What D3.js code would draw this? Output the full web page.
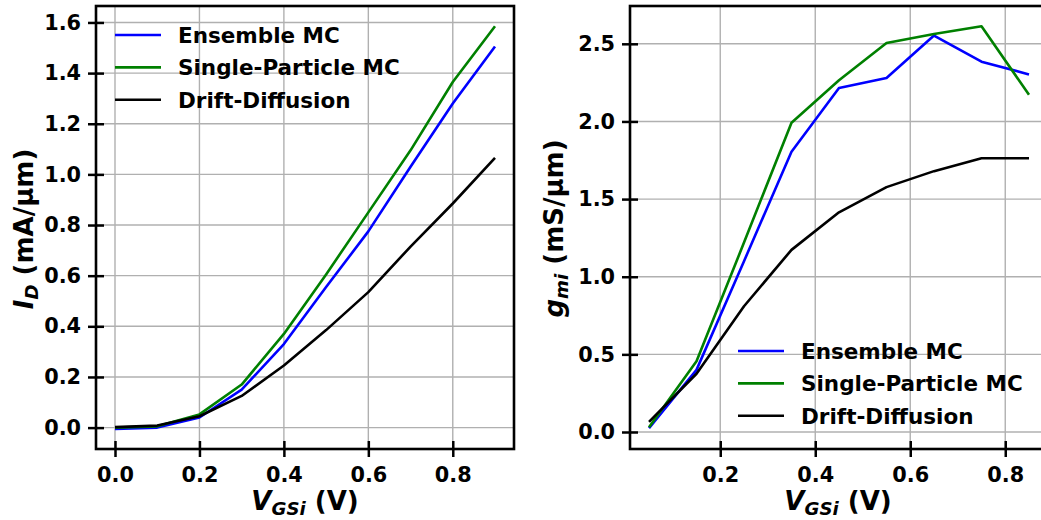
<!DOCTYPE html>
<html><head><meta charset="utf-8">
<script src="https://cdn.jsdelivr.net/npm/d3@7"></script>
<style>
body{margin:0;background:#fff;}
svg{display:block;font-family:"DejaVu Sans",sans-serif;font-weight:bold;}
</style></head>
<body>
<svg id="chart" width="1041" height="520"></svg>
<script>
// ---- data ----
const vgsLeft = [0.0, 0.1, 0.2, 0.3, 0.4, 0.5, 0.6, 0.7, 0.8, 0.9];
const idEnsemble = [-0.005, 0.0, 0.04, 0.15, 0.33, 0.555, 0.775, 1.03, 1.28, 1.505];
const idSingle   = [0.0, 0.005, 0.052, 0.17, 0.37, 0.605, 0.85, 1.095, 1.365, 1.585];
const idDD       = [0.002, 0.008, 0.045, 0.125, 0.245, 0.385, 0.535, 0.715, 0.885, 1.065];

const vgsRight = [0.05, 0.15, 0.25, 0.35, 0.45, 0.55, 0.65, 0.75, 0.85];
const gmEnsemble = [0.025, 0.40, 1.10, 1.805, 2.215, 2.28, 2.553, 2.385, 2.303];
const gmSingle   = [0.03, 0.455, 1.22, 1.992, 2.265, 2.505, 2.563, 2.613, 2.172];
const gmDD       = [0.065, 0.375, 0.81, 1.173, 1.415, 1.577, 1.68, 1.763, 1.763];

const seriesNames = ["Ensemble MC", "Single-Particle MC", "Drift-Diffusion"];
const seriesColors = ["#0000ff", "#008000", "#000000"];

const xTicksLeft = [0.0, 0.2, 0.4, 0.6, 0.8];
const yTicksLeft = [0.0, 0.2, 0.4, 0.6, 0.8, 1.0, 1.2, 1.4, 1.6];
const xTicksRight = [0.2, 0.4, 0.6, 0.8];
const yTicksRight = [0.0, 0.5, 1.0, 1.5, 2.0, 2.5];

// ---- layout ----
const svg = d3.select("#chart");
const plotTop = 6, plotBottom = 449;

function panel(cfg) {
  const x = d3.scaleLinear().domain(cfg.xDomain).range([cfg.left, cfg.right]);
  const y = d3.scaleLinear().domain(cfg.yDomain).range([plotBottom, plotTop]);
  const g = svg.append("g");
  const clipId = "clip" + cfg.id;
  svg.append("clipPath").attr("id", clipId).append("rect")
    .attr("x", cfg.left).attr("y", plotTop).attr("width", cfg.right - cfg.left).attr("height", plotBottom - plotTop);

  // grid
  const grid = g.append("g").attr("stroke", "#b0b0b0").attr("stroke-width", 1.4);
  grid.selectAll(".gx").data(cfg.xTicks).join("line")
    .attr("x1", d => x(d)).attr("x2", d => x(d)).attr("y1", plotTop).attr("y2", plotBottom);
  grid.selectAll(".gy").data(cfg.yTicks).join("line")
    .attr("x1", cfg.left).attr("x2", cfg.right).attr("y1", d => y(d)).attr("y2", d => y(d));

  // lines
  const line = d3.line().x(d => x(d[0])).y(d => y(d[1]));
  const lg = g.append("g").attr("clip-path", `url(#${clipId})`);
  cfg.series.forEach((s, i) => {
    lg.append("path").datum(cfg.xs.map((v, k) => [v, s[k]]))
      .attr("d", line).attr("fill", "none")
      .attr("stroke", seriesColors[i]).attr("stroke-width", 2.6)
      .attr("stroke-linejoin", "round");
  });

  // axes
  const fmt = d3.format(cfg.yFmt);
  const ax = g.append("g").attr("transform", `translate(0,${plotBottom})`)
    .call(d3.axisBottom(x).tickValues(cfg.xTicks).tickFormat(d3.format(".1f")).tickSize(8).tickPadding(10));
  const ay = g.append("g").attr("transform", `translate(${cfg.left},0)`)
    .call(d3.axisLeft(y).tickValues(cfg.yTicks).tickFormat(fmt).tickSize(8).tickPadding(7));
  [ax, ay].forEach(a => {
    a.select(".domain").remove();
    a.selectAll(".tick text").attr("font-size", 20.8).attr("font-family", "DejaVu Sans").attr("font-weight", "bold").attr("fill", "#000");
    a.selectAll(".tick line").attr("stroke", "#000").attr("stroke-width", 2.5);
  });
  ax.selectAll(".tick line").attr("y1", -8).attr("y2", 8);
  ay.selectAll(".tick line").attr("x1", 8).attr("x2", -8);
  ax.selectAll(".tick text").attr("dy", "0.71em");

  // frame
  g.append("rect").attr("x", cfg.left).attr("y", plotTop)
    .attr("width", cfg.right - cfg.left).attr("height", plotBottom - plotTop)
    .attr("fill", "none").attr("stroke", "#000").attr("stroke-width", 2.6);

  // x label
  const xl = g.append("text").attr("x", cfg.xLabelX).attr("y", 510)
    .attr("text-anchor", "middle").attr("font-size", 26).attr("fill", "#000");
  xl.append("tspan").attr("font-style", "italic").text("V");
  xl.append("tspan").attr("font-style", "italic").attr("font-size", 18.2).attr("dy", 4.5).text("GSi");
  xl.append("tspan").attr("dy", -4.5).text(" (V)");

  // y label
  const yl = g.append("text").attr("transform", `translate(${cfg.yLabelX},${cfg.yLabelY}) rotate(-90)`)
    .attr("text-anchor", "middle").attr("font-size", 26).attr("fill", "#000");
  yl.append("tspan").attr("font-style", "italic").text(cfg.yMain);
  yl.append("tspan").attr("font-style", "italic").attr("font-size", 18.2).attr("dy", 4.5).text(cfg.ySub);
  yl.append("tspan").attr("dy", -4.5).text(" " + cfg.yUnit);

  // legend
  const leg = g.append("g");
  seriesNames.forEach((n, i) => {
    const yy = cfg.legY + i * 32.4;
    leg.append("line").attr("x1", cfg.legX).attr("x2", cfg.legX + 46).attr("y1", yy).attr("y2", yy)
      .attr("stroke", seriesColors[i]).attr("stroke-width", 2.6);
    leg.append("text").attr("x", cfg.legX + 63).attr("y", yy).attr("dy", "0.36em")
      .attr("font-size", 21.5).attr("fill", "#000").text(n);
  });
}

panel({
  id: "L", left: 96, right: 514,
  xDomain: [-0.045, 0.945], yDomain: [-0.0845, 1.665],
  xTicks: xTicksLeft, yTicks: yTicksLeft, yFmt: ".1f",
  xs: vgsLeft, series: [idEnsemble, idSingle, idDD],
  xLabelX: 305, yLabelX: 33, yLabelY: 229,
  yMain: "I", ySub: "D", yUnit: "(mA/\u03bcm)",
  legX: 115, legY: 35
});
panel({
  id: "R", left: 630, right: 1048,
  xDomain: [0.01, 0.89], yDomain: [-0.1095, 2.7435],
  xTicks: xTicksRight, yTicks: yTicksRight, yFmt: ".1f",
  xs: vgsRight, series: [gmEnsemble, gmSingle, gmDD],
  xLabelX: 838, yLabelX: 563, yLabelY: 228.5,
  yMain: "g", ySub: "mi", yUnit: "(mS/\u03bcm)",
  legX: 738, legY: 351
});
</script>
</body></html>
